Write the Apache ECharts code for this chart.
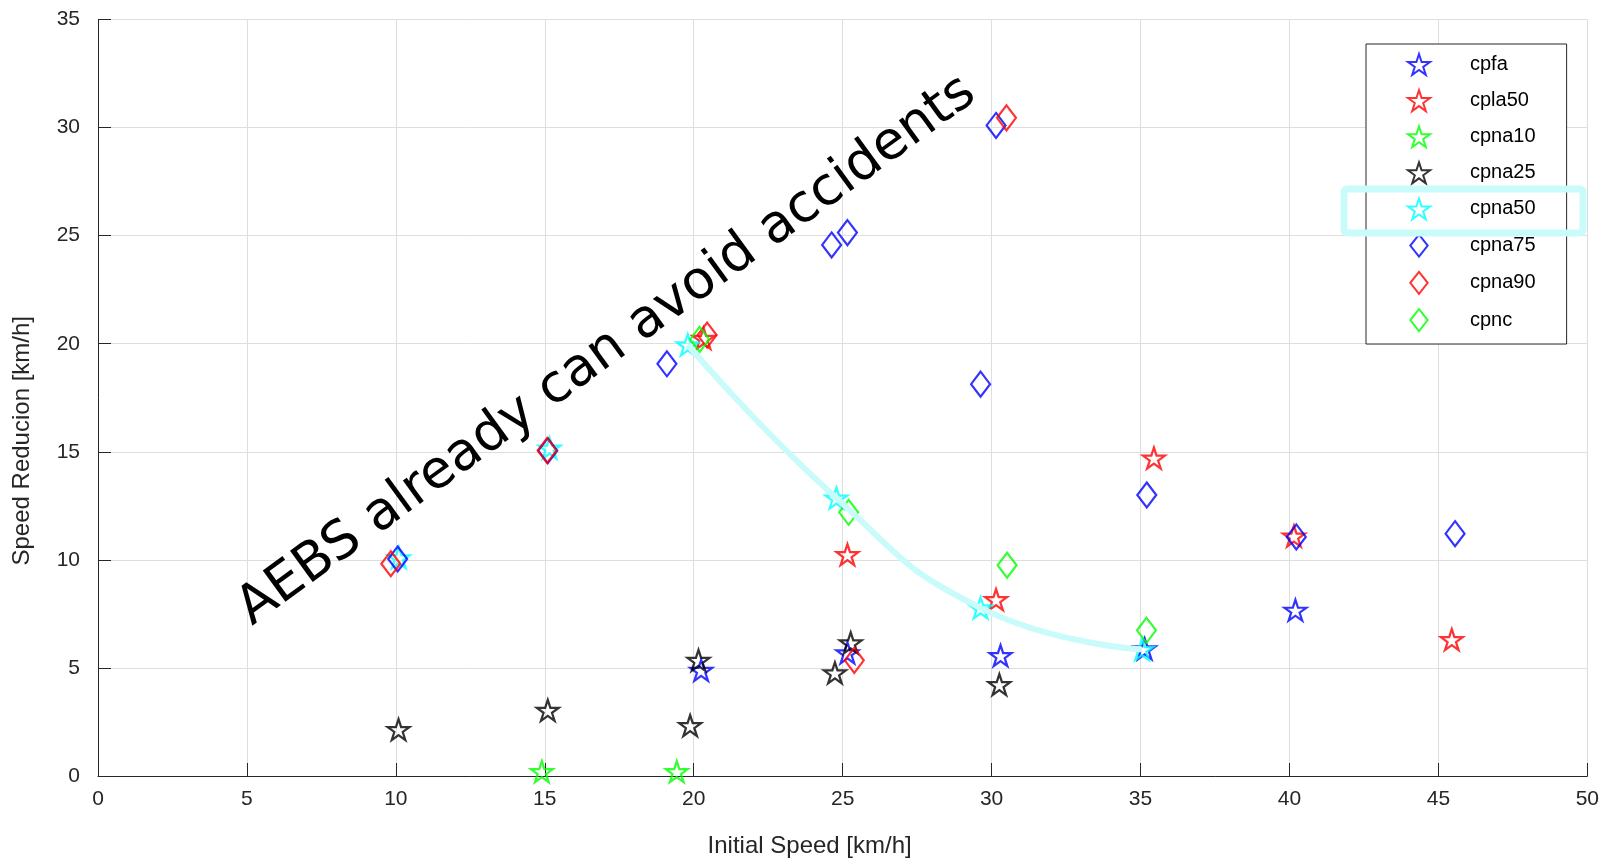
<!DOCTYPE html>
<html><head><meta charset="utf-8">
<script src="https://cdn.jsdelivr.net/npm/echarts@6/dist/echarts.min.js"></script>
<style>html,body{margin:0;padding:0;background:#fff}#c{width:1602px;height:863px}</style>
</head><body><div id="c"></div>
<script>
// ---- data (x = Initial Speed km/h, y = Speed Reduction km/h) ----
const cpfa   = [[20.25,4.89],[25.16,5.7],[30.3,5.57],[35.14,5.88],[40.2,7.67]];
const cpla50 = [[20.33,20.25],[25.16,10.24],[30.15,8.16],[35.45,14.71],[40.15,11.1],[45.45,6.31]];
const cpna10 = [[14.9,0.2],[19.43,0.2]];
const cpna25 = [[10.09,2.15],[15.1,3.04],[19.88,2.33],[20.16,5.35],[24.74,4.77],[25.27,6.16],[30.26,4.23]];
const cpna50 = [[10.1,10.1],[15.16,15.17],[19.8,19.95],[24.79,12.86],[29.63,7.78],[35.05,5.85]];
const cpna75 = [[10.06,10.04],[15.1,15.05],[19.1,19.07],[24.63,24.57],[25.16,25.14],[29.63,18.13],[30.15,30.1],[35.21,13.0],[40.23,11.06],[45.56,11.21]];
const cpna90 = [[9.83,9.82],[15.08,15.06],[20.45,20.4],[25.39,5.35],[30.5,30.45]];
const cpnc   = [[20.2,20.2],[25.2,12.2],[30.52,9.75],[35.2,6.74]];
const trend50 = cpna50.slice(2);   // highlighted cpna50 trend (20..35 km/h)
const seriesNames = ['cpfa','cpla50','cpna10','cpna25','cpna50','cpna75','cpna90','cpnc'];
const annotationText = 'AEBS already can avoid accidents';

const STAR = 'path://M0,-1L0.2245,-0.309L0.951,-0.309L0.363,0.118L0.588,0.809L0,0.382L-0.588,0.809L-0.363,0.118L-0.951,-0.309L-0.2245,-0.309Z';
const DIAM = 'path://M0,-12L9.5,0L0,12L-9.5,0Z';
const specs = {
  cpfa:   {d: cpfa,   c:'#0000ff', s: STAR},
  cpla50: {d: cpla50, c:'#ff0000', s: STAR},
  cpna10: {d: cpna10, c:'#00ff00', s: STAR},
  cpna25: {d: cpna25, c:'#000000', s: STAR},
  cpna50: {d: cpna50, c:'#00ffff', s: STAR},
  cpna75: {d: cpna75, c:'#0000ff', s: DIAM},
  cpna90: {d: cpna90, c:'#ff0000', s: DIAM},
  cpnc:   {d: cpnc,   c:'#00ff00', s: DIAM}
};
const FONT = 'Liberation Sans, Arial, Helvetica, sans-serif';
const AX = '#262626';

const series = seriesNames.map((n, i) => ({
  name: n, type: 'scatter', data: specs[n].d,
  symbol: specs[n].s,
  symbolSize: specs[n].s === STAR ? [22, 21] : [19, 25],
  itemStyle: {color: 'rgba(0,0,0,0)', borderColor: specs[n].c, borderWidth: 2.2},
  emphasis: {disabled: true},
  z: 2 + i * 0.01
}));
series.push({
  name: 'trend', type: 'line', data: trend50, smooth: true, symbol: 'none',
  lineStyle: {color: '#c9fbfb', width: 6}, z: 3, silent: true
});

const chart = echarts.init(document.getElementById('c'));
chart.setOption({
  animation: false,
  backgroundColor: '#fff',
  grid: {left: 98, right: 11, top: 19.5, bottom: 86.5},
  xAxis: {
    type: 'value', min: 0, max: 50, interval: 5,
    name: 'Initial Speed [km/h]', nameLocation: 'middle', nameGap: 58,
    nameTextStyle: {fontFamily: FONT, fontSize: 24, color: AX, padding: [0, 66, 0, 0]},
    axisLine: {show: true, onZero: false, lineStyle: {color: AX, width: 1}},
    axisTick: {show: true, inside: true, length: 13, lineStyle: {color: AX}},
    axisLabel: {fontFamily: FONT, fontSize: 21, color: AX, margin: 13},
    splitLine: {show: true, lineStyle: {color: '#dedede', width: 1}}
  },
  yAxis: {
    type: 'value', min: 0, max: 35, interval: 5,
    name: 'Speed Reducion [km/h]', nameLocation: 'middle', nameGap: 64,
    nameTextStyle: {fontFamily: FONT, fontSize: 24, color: AX, padding: [0, 86, 0, 0]},
    axisLine: {show: true, onZero: false, lineStyle: {color: AX, width: 1}},
    axisTick: {show: true, inside: true, length: 13, lineStyle: {color: AX}},
    axisLabel: {fontFamily: FONT, fontSize: 21, color: AX, margin: 18},
    splitLine: {show: true, lineStyle: {color: '#dedede', width: 1}}
  },
  legend: {
    orient: 'vertical', left: 1366, top: 44,
    padding: [9, 31, 12, 41], itemGap: 13.2, itemWidth: 22, itemHeight: 22,
    borderColor: AX, borderWidth: 1, backgroundColor: '#fff',
    textStyle: {fontFamily: FONT, fontSize: 20, color: '#000', padding: [0, 0, 0, 35]},
    selectedMode: false,
    data: seriesNames.map(n => ({name: n, icon: specs[n].s}))
  },
  graphic: [
    {type: 'rect', z: 100, shape: {x: 1344, y: 189, width: 239, height: 44, r: 3},
     style: {fill: 'none', stroke: '#c9fbfb', lineWidth: 7}},
    {type: 'text', z: 100, x: 607, y: 351, rotation: 36 * Math.PI / 180,
     style: {text: annotationText, fontFamily: 'DejaVu Sans', fontSize: 53, fill: '#000',
             align: 'center', verticalAlign: 'middle'}}
  ],
  series: series
});
</script></body></html>
